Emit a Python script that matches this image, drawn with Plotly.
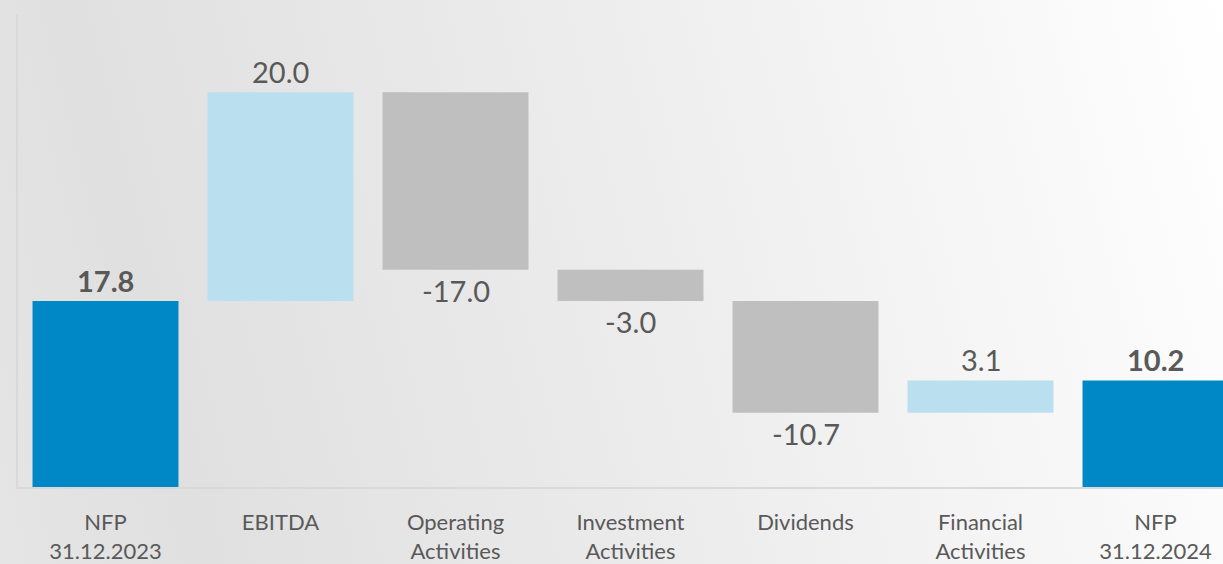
import base64
import plotly.graph_objects as go

# Net financial position bridge, 2023 -> 2024
categories = ["NFP 31.12.2023", "EBITDA", "Operating Activities", "Investment Activities",
              "Dividends", "Financial Activities", "NFP 31.12.2024"]
tick_labels = ["NFP<br>31.12.2023", "EBITDA", "Operating<br>Activities", "Investment<br>Activities",
               "Dividends", "Financial<br>Activities", "NFP<br>31.12.2024"]
values = [17.8, 20.0, -17.0, -3.0, -10.7, 3.1, 10.2]
measures = ["absolute", "relative", "relative", "relative", "relative", "relative", "total"]

DARK_BLUE = "#0088C6"
LIGHT_BLUE = "#BADFEE"
GREY_BAR = "#BFBFBF"
TEXT = "#595959"
AXIS = "#D9D9D9"
FONT = "Lato"

W, H = 1223, 564
ML, MR, MT, MB = 18, 0, 15, 77

# soft diagonal background wash
svg = f"""<svg xmlns='http://www.w3.org/2000/svg' width='{W}' height='{H}'>
<defs><linearGradient id='g' gradientUnits='userSpaceOnUse' x1='0' y1='564' x2='1284' y2='243'>
<stop offset='0' stop-color='#e5e5e5'/>
<stop offset='0.15' stop-color='#e0e0e0'/>
<stop offset='0.48' stop-color='#ebebeb'/>
<stop offset='0.88' stop-color='#fafafa'/>
<stop offset='1' stop-color='#ffffff'/>
</linearGradient></defs>
<rect width='{W}' height='{H}' fill='url(#g)'/></svg>"""
bg_uri = "data:image/svg+xml;base64," + base64.b64encode(svg.encode()).decode()

x_idx = list(range(len(categories)))

fig = go.Figure(go.Waterfall(
    x=x_idx,
    y=values,
    measure=measures,
    width=0.834,
    increasing=dict(marker=dict(color=LIGHT_BLUE)),
    decreasing=dict(marker=dict(color=GREY_BAR)),
    totals=dict(marker=dict(color=DARK_BLUE)),
    connector=dict(visible=False),
    hoverinfo="skip",
))

# value labels: above bar tops for totals/increases, below bar bottoms for decreases
annotations = []
running = 0.0
for i, (v, m) in enumerate(zip(values, measures)):
    if m == "absolute":
        start, end = 0.0, v
        running = v
    elif m == "total":
        start, end = 0.0, running
    else:
        start, end = running, running + v
        running = end
    label = f"{v:.1f}"
    if m in ("absolute", "total"):
        label = f"<b>{label}</b>"
    if v >= 0:
        annotations.append(dict(x=i, y=max(start, end), text=label, showarrow=False,
                                yanchor="bottom", yshift=1,
                                font=dict(family=FONT, size=29, color=TEXT)))
    else:
        annotations.append(dict(x=i, y=min(start, end), text=label, showarrow=False,
                                yanchor="top", yshift=-1,
                                font=dict(family=FONT, size=29, color=TEXT)))

fig.update_layout(
    width=W, height=H,
    margin=dict(l=ML, r=MR, t=MT, b=MB),
    paper_bgcolor="#ffffff",
    plot_bgcolor="rgba(0,0,0,0)",
    showlegend=False,
    annotations=annotations,
    images=[dict(source=bg_uri, xref="paper", yref="paper",
                 x=-ML / (W - ML - MR), y=1 + MT / (H - MT - MB),
                 sizex=W / (W - ML - MR), sizey=H / (H - MT - MB),
                 xanchor="left", yanchor="top", sizing="stretch", layer="below")],
    xaxis=dict(
        range=[-0.5, -0.5 + (W - ML - MR) / 175.0],
        tickvals=x_idx, ticktext=tick_labels,
        tickfont=dict(family=FONT, size=22, color=TEXT),
        ticklabelstandoff=15,
        showgrid=False, zeroline=False,
        showline=True, linecolor=AXIS, linewidth=2,
        ticks="", fixedrange=True,
    ),
    yaxis=dict(
        range=[0, 45.2],
        showticklabels=False, showgrid=False, zeroline=False,
        showline=True, linecolor=AXIS, linewidth=2,
        ticks="", fixedrange=True,
    ),
)

fig.write_html("out.html", config={"displayModeBar": False})
